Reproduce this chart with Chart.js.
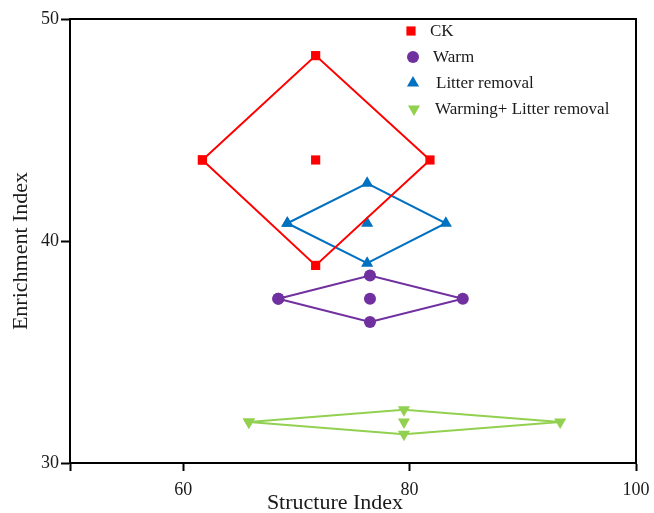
<!DOCTYPE html>
<html>
<head>
<meta charset="utf-8">
<script src="https://cdn.jsdelivr.net/npm/chart.js@4/dist/chart.umd.min.js"></script>
<style>
html, body { margin: 0; padding: 0; background: #fff; }
</style>
</head>
<body>
<canvas id="grafico" width="654" height="513"></canvas>
<script>
// dati
const gruppi = ["CK", "Warm", "Litter removal", "Warming+ Litter removal"]
const struttura = [71.7, 76.5, 76.25, 79.5]
const strutturaMin = [61.7, 68.4, 69.2, 65.8]
const strutturaMax = [81.8, 84.7, 83.2, 93.3]
const arricchimento = [43.65, 37.4, 40.8, 31.85]
const arricchimentoMin = [38.9, 36.35, 39.0, 31.3]
const arricchimentoMax = [48.35, 38.45, 42.6, 32.4]
const tickX = [50, 60, 80, 100]
const tickY = [30, 40, 50]

const colori = ["#ff0000", "#7030a0", "#0070c0", "#92d050"]
const forme = ["rect", "circle", "triangle", "triangle"]
const rotazioni = [0, 0, 0, 180]
const raggi = [6.5, 6, 7, 7]
const font = "'Liberation Serif', 'Times New Roman', serif"

//Costruisco i dataset: rombo + punto centrale
const datasets = []
gruppi.forEach((g, i) => {
    const rombo = [
        {x: strutturaMin[i], y: arricchimento[i]},
        {x: struttura[i], y: arricchimentoMax[i]},
        {x: strutturaMax[i], y: arricchimento[i]},
        {x: struttura[i], y: arricchimentoMin[i]},
        {x: strutturaMin[i], y: arricchimento[i]}
    ]
    datasets.push({
        label: g,
        data: rombo,
        showLine: true,
        borderColor: colori[i],
        backgroundColor: colori[i],
        borderWidth: 2,
        pointStyle: forme[i],
        rotation: rotazioni[i],
        pointRadius: raggi[i],
        pointBorderWidth: 0,
        tension: 0
    })
    datasets.push({
        label: g + ' centro',
        data: [{x: struttura[i], y: arricchimento[i]}],
        showLine: false,
        backgroundColor: colori[i],
        borderColor: colori[i],
        pointStyle: forme[i],
        rotation: rotazioni[i],
        pointRadius: raggi[i],
        pointBorderWidth: 0
    })
})

//Plugin per cornice, titoli degli assi e legenda
const decorazioni = {
    id: 'decorazioni',
    afterDraw(chart) {
        const ctx = chart.ctx
        const area = chart.chartArea
        ctx.save()
        ctx.strokeStyle = '#000'
        ctx.lineWidth = 2
        ctx.beginPath()
        ctx.moveTo(area.left, area.top)
        ctx.lineTo(area.right, area.top)
        ctx.lineTo(area.right, area.bottom)
        ctx.stroke()

        ctx.fillStyle = '#1a1a1a'
        ctx.font = "22px " + font
        ctx.textAlign = 'center'
        ctx.textBaseline = 'middle'
        ctx.fillText("Structure Index", 335, 503)
        ctx.save()
        ctx.translate(21, 251)
        ctx.rotate(-Math.PI / 2)
        ctx.fillText("Enrichment Index", 0, 0)
        ctx.restore()

        //legenda
        const xm = [411, 413, 413, 414]
        const xt = [430, 433, 436, 435]
        ctx.font = "17px " + font
        ctx.textAlign = 'left'
        gruppi.forEach((g, i) => {
            const y = 31 + i * 26
            ctx.fillStyle = colori[i]
            ctx.strokeStyle = colori[i]
            Chart.helpers.drawPoint(ctx, {pointStyle: forme[i], rotation: rotazioni[i], radius: raggi[i], borderWidth: 0}, xm[i], y)
            ctx.fillStyle = '#1a1a1a'
            ctx.fillText(g, xt[i], y + 1)
        })
        ctx.restore()
    }
}

new Chart(document.querySelector('#grafico'), {
    type: 'scatter',
    data: {datasets: datasets},
    plugins: [decorazioni],
    options: {
        responsive: false,
        animation: false,
        layout: {padding: {left: 0, top: 19, right: 18, bottom: 0}},
        plugins: {legend: {display: false}, tooltip: {enabled: false}},
        scales: {
            x: {
                type: 'linear',
                min: 50,
                max: 100,
                afterBuildTicks: (scale) => { scale.ticks = tickX.map(v => ({value: v})) },
                afterFit: (scale) => {
                    scale.height = 50
                    scale.paddingLeft = 0
                    scale.paddingRight = 0
                },
                ticks: {
                    color: '#1a1a1a',
                    font: {family: font, size: 18},
                    padding: 8,
                    maxRotation: 0,
                    autoSkip: false,
                    callback: (v) => v == 50 ? '' : v
                },
                grid: {drawOnChartArea: false, drawTicks: true, tickLength: 8, tickWidth: 2, color: '#000'},
                border: {display: true, color: '#000', width: 2}
            },
            y: {
                type: 'linear',
                min: 30,
                max: 50,
                afterBuildTicks: (scale) => { scale.ticks = tickY.map(v => ({value: v})) },
                afterFit: (scale) => { scale.width = 70 },
                ticks: {
                    color: '#1a1a1a',
                    font: {family: font, size: 18},
                    padding: 2,
                    autoSkip: false
                },
                grid: {drawOnChartArea: false, drawTicks: true, tickLength: 9, tickWidth: 2, color: '#000'},
                border: {display: true, color: '#000', width: 2}
            }
        }
    }
})
</script>
</body>
</html>
